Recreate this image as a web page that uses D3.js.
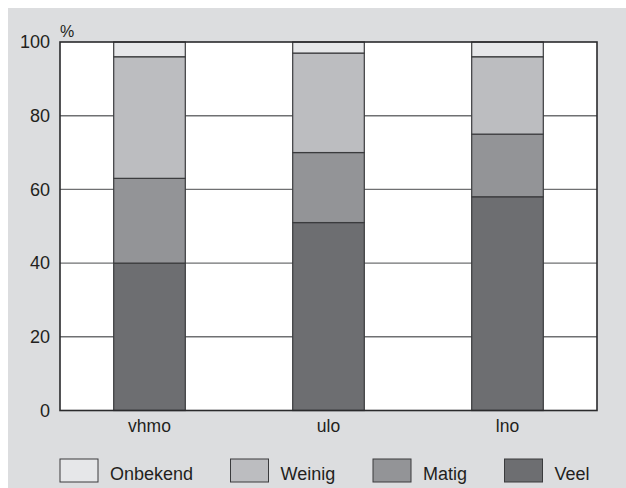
<!DOCTYPE html>
<html><head><meta charset="utf-8">
<script src="https://cdn.jsdelivr.net/npm/d3@7"></script>
<style>body{margin:0;background:#fff;}svg{display:block;font-family:"Liberation Sans",Arial,sans-serif;}</style>
</head><body>
<svg id="c" width="626" height="488"></svg>
<script>
const categories = ["vhmo", "ulo", "lno"];
const seriesNames = ["Veel", "Matig", "Weinig", "Onbekend"];
const veel = [40, 51, 58];
const matig = [23, 19, 17];
const weinig = [33, 27, 21];
const onbekend = [4, 3, 4];
const yTicks = [0, 20, 40, 60, 80, 100];
const legendOrder = ["Onbekend", "Weinig", "Matig", "Veel"];
const colors = {Veel: "#6d6e71", Matig: "#939497", Weinig: "#bcbdc0", Onbekend: "#e6e7e9"};

const svg = d3.select("#c");
svg.append("rect").attr("x", 8).attr("y", 8).attr("width", 618).attr("height", 480).attr("fill", "#dcdddf");

const L = 60, R = 597, T = 42, B = 410.5;
const x = d3.scaleBand().domain(categories).range([L, R]).paddingInner(0.6).paddingOuter(0.3);
const y = d3.scaleLinear().domain([0, 100]).range([B, T]);

svg.append("rect").attr("x", L).attr("y", T).attr("width", R - L).attr("height", B - T).attr("fill", "#fff");

// gridlines
svg.append("g").selectAll("line").data(yTicks.filter(d => d > 0 && d < 100)).join("line")
  .attr("x1", L).attr("x2", R).attr("y1", d => y(d)).attr("y2", d => y(d))
  .attr("stroke", "#6f7072").attr("stroke-width", 1.4);

const table = categories.map((c, i) => ({cat: c, Veel: veel[i], Matig: matig[i], Weinig: weinig[i], Onbekend: onbekend[i]}));
const stacked = d3.stack().keys(seriesNames)(table);

svg.append("g").selectAll("g").data(stacked).join("g")
  .attr("fill", d => colors[d.key])
  .selectAll("rect").data(d => d).join("rect")
  .attr("x", d => x(d.data.cat)).attr("width", x.bandwidth())
  .attr("y", d => y(d[1])).attr("height", d => y(d[0]) - y(d[1]))
  .attr("stroke", "#3a3b3d").attr("stroke-width", 1.2);

// frame
svg.append("rect").attr("x", L).attr("y", T).attr("width", R - L).attr("height", B - T)
  .attr("fill", "none").attr("stroke", "#2a2a2c").attr("stroke-width", 1.6);

// y axis labels
const yAxis = d3.axisLeft(y).tickValues(yTicks).tickSize(0).tickPadding(10);
const ga = svg.append("g").attr("transform", `translate(${L},0)`).call(yAxis);
ga.select(".domain").remove();
ga.attr("font-size", null).attr("font-family", null);
ga.selectAll("text").attr("font-size", 18).attr("fill", "#231f20");

const xAxis = d3.axisBottom(x).tickSize(0).tickPadding(9);
const gx = svg.append("g").attr("transform", `translate(0,${B})`).call(xAxis);
gx.select(".domain").remove();
gx.attr("font-size", null).attr("font-family", null);
gx.selectAll("text").attr("font-size", 17.5).attr("fill", "#231f20");

svg.append("text").attr("x", 60).attr("y", 37).attr("font-size", 16).attr("fill", "#231f20").text("%");

// legend
const legX = [60, 230.5, 373, 504.5];
const lg = svg.append("g").selectAll("g").data(legendOrder).join("g")
  .attr("transform", (d, i) => `translate(${legX[i]},459)`);
lg.append("rect").attr("width", 38).attr("height", 23).attr("fill", d => colors[d])
  .attr("stroke", "#3a3b3d").attr("stroke-width", 1);
lg.append("text").attr("x", 50).attr("y", 21).attr("font-size", 18).attr("fill", "#231f20").text(d => d);
</script>
</body></html>
